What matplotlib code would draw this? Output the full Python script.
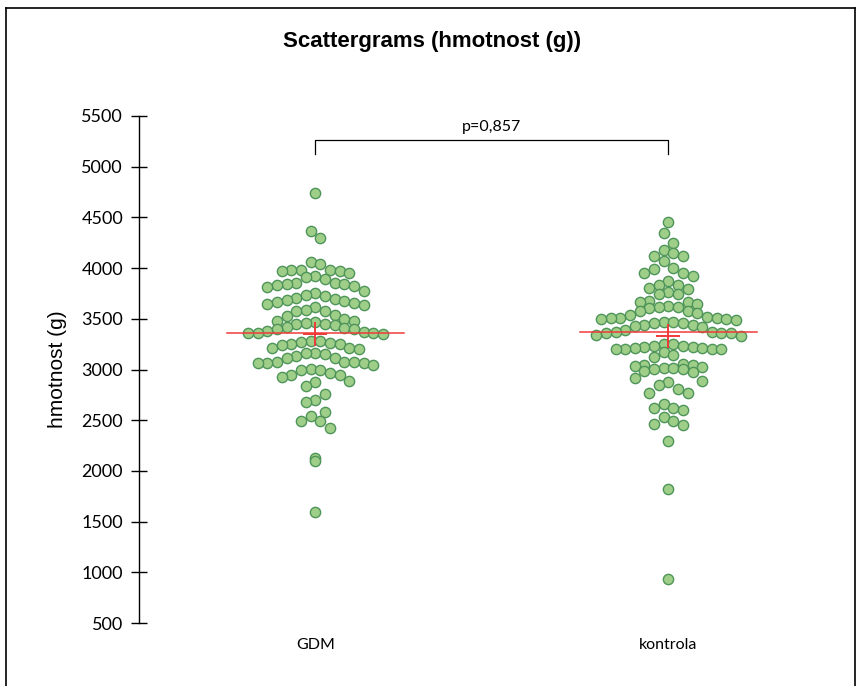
"""
Scattergram (beeswarm) of birth weight for GDM vs control group
"""

import numpy as np
import matplotlib.pyplot as plt
from matplotlib.lines import Line2D


groups = ['GDM', 'kontrola']

gdm = [4740, 4365, 4295, 4060, 4045,
       3985, 3980, 3978, 3975, 3970, 3955, 3920, 3910,
       3890, 3850, 3850, 3848, 3845, 3830, 3823, 3810,
       3775, 3750, 3731, 3728, 3705,
       3698, 3689, 3672, 3665, 3656, 3650, 3636, 3616,
       3584, 3577, 3574, 3533, 3527,
       3495, 3478, 3478, 3468, 3455, 3452, 3452, 3442,
       3415, 3405, 3403, 3400, 3376, 3369, 3360, 3360, 3360, 3354,
       3281, 3281, 3268, 3262, 3255, 3248, 3241, 3215, 3210, 3205,
       3162, 3162, 3150, 3130, 3113, 3110,
       3074, 3074, 3070, 3068, 3068, 3066, 3041, 3008,
       2992, 2992, 2969, 2949, 2942, 2925,
       2883, 2873, 2834,
       2762, 2703, 2680,
       2584, 2541, 2491, 2491, 2427, 2127, 2100, 1594]

kontrola = [4451, 4346, 4244, 4178, 4149, 4123, 4116, 4074, 4001, 3991,
            3955, 3955, 3926, 3870, 3837, 3837, 3807, 3794, 3761, 3744, 3744,
            3675, 3666, 3666, 3650, 3623, 3616, 3613, 3610, 3580, 3574, 3557,
            3534, 3521, 3508, 3508, 3508, 3501, 3495, 3485,
            3465, 3465, 3458, 3458, 3435, 3435, 3426, 3419,
            3386, 3369, 3369, 3360, 3360, 3356, 3343, 3330,
            3250, 3250, 3235, 3235, 3225, 3220, 3215, 3215, 3205, 3200, 3200, 3200,
            3170, 3146, 3120,
            3058, 3044, 3044, 3031, 3027, 3014, 3014, 3002, 3002, 2988, 2975,
            2916, 2890, 2873, 2846, 2807, 2765, 2765,
            2663, 2620, 2620, 2597, 2531, 2491, 2459, 2449, 2294, 1821, 937]

means = [3350, 3330]
medians = [3360, 3367]
p_text = 'p=0,857'
yticks = np.arange(500, 5501, 500)


def swarm_offsets(values, bin_width=150, step=0.0272):
    """Spread points of each value bin side by side, highest values in the middle"""
    values = np.asarray(values, float)
    offsets = np.zeros(len(values))
    bins = np.floor((values - 25) / bin_width)
    for b in np.unique(bins):
        idx = np.where(bins == b)[0]
        idx = idx[np.argsort(-values[idx], kind='stable')]
        n = len(idx)
        slots = np.arange(n) - (n - 1) / 2
        slots = slots[np.argsort(np.abs(slots) + 1e-6 * slots, kind='stable')]
        offsets[idx] = slots * step
    return offsets


fig = plt.figure(figsize=(8.62, 6.86), dpi=100)
ax = fig.add_axes([139 / 862, 1 - 623 / 686, 706 / 862, 507 / 686])

face = '#9fce88'
edge = '#4e9559'
red = '#f03a3a'

for i, vals in enumerate([gdm, kontrola]):
    x = i + swarm_offsets(vals)
    ax.plot(x, vals, 'o', ms=7.4, mfc=face, mec=edge, mew=1.0, zorder=3)
    # median line and mean cross
    ax.plot([i - 0.25, i + 0.25], [medians[i], medians[i]], color=red, lw=1.1, zorder=4)
    ax.plot(i, means[i], '+', ms=17, mew=1.4, color=red, zorder=4)

# significance bracket
ax.plot([0, 0, 1, 1], [5130, 5260, 5260, 5130], color='black', lw=0.9, clip_on=False)
ax.text(0.5, 5390, p_text, ha='center', va='center', fontsize=11.5, family='Lato')

ax.set_xlim(-0.5, 1.5)
ax.set_ylim(500, 5500)
ax.set_yticks(yticks)
ax.set_yticklabels([str(t) for t in yticks], fontsize=13, family='Lato')
ax.set_xticks([0, 1])
ax.set_xticklabels(groups, fontsize=11.5, family='Lato')
ax.tick_params(axis='x', length=0, pad=11)
ax.tick_params(axis='y', direction='inout', length=11, width=1, pad=6)
for s in ['top', 'right', 'bottom']:
    ax.spines[s].set_visible(False)
ax.spines['left'].set_linewidth(1)
ax.set_ylabel('hmotnost (g)', fontsize=15, family='Liberation Sans', labelpad=10)

fig.text(432 / 862, 1 - 42 / 686, 'Scattergrams (hmotnost (g))', ha='center', va='center',
         fontsize=16, fontweight='bold', family='Liberation Sans')

# frame around the figure (no bottom edge)
fx0, fx1, fy1 = 6 / 862, 855 / 862, 1 - 8 / 686
for xs, ys in [([fx0, fx0], [0, fy1]), ([fx0, fx1], [fy1, fy1]), ([fx1, fx1], [fy1, 0])]:
    fig.add_artist(Line2D(xs, ys, color='black', lw=1.2))

plt.savefig('out.png', dpi=100)
plt.close()
